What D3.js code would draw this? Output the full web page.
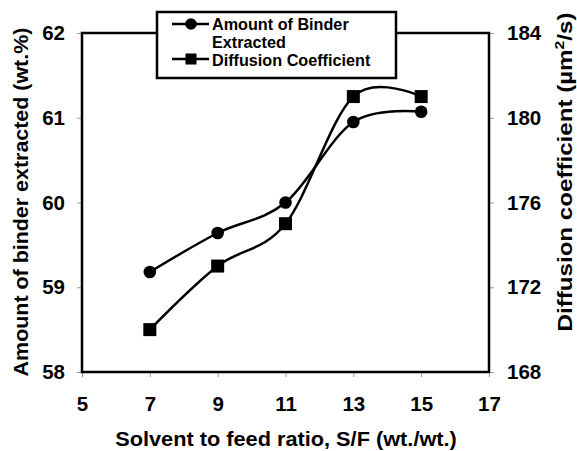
<!DOCTYPE html>
<html><head><meta charset="utf-8">
<script src="https://cdn.jsdelivr.net/npm/d3@7"></script>
<style>
html,body{margin:0;padding:0;background:#fff;}
svg{display:block;font-family:"Liberation Sans",Arial,sans-serif;font-weight:bold;}
</style></head>
<body>
<svg id="chart" width="577" height="451"></svg>
<script>
const solventRatio = [7, 9, 11, 13, 15];
const binderExtracted = [59.18, 59.64, 60.0, 60.95, 61.07];
const diffusionCoef = [170.0, 173.0, 175.0, 181.0, 181.0];
const xTicks = [5, 7, 9, 11, 13, 15, 17];
const leftTicks = [58, 59, 60, 61, 62];
const rightTicks = [168, 172, 176, 180, 184];
const seriesNames = ["Amount of Binder", "Extracted", "Diffusion Coefficient"];
const xTitle = "Solvent to feed ratio, S/F (wt./wt.)";
const leftTitle = "Amount of binder extracted (wt.%)";

const svg = d3.select("#chart");
const L = 82, R = 489, T = 33, B = 372;
const x = d3.scaleLinear().domain([5, 17]).range([L, R]);
const yL = d3.scaleLinear().domain([58, 62]).range([B, T]);
const yR = d3.scaleLinear().domain([168, 184]).range([B, T]);

function styleAxis(g){
  g.select(".domain").remove();
  g.selectAll(".tick line").attr("stroke", "#999").attr("stroke-width", 1);
  g.selectAll(".tick text").attr("font-size", 20.5).attr("font-weight", "bold")
    .attr("fill", "#000").attr("font-family", '"Liberation Sans", Arial, sans-serif');
}

svg.append("g").attr("transform", `translate(0,${B})`)
  .call(d3.axisBottom(x).tickValues(xTicks).tickFormat(d3.format("d")).tickSize(5).tickPadding(19))
  .call(styleAxis);
svg.append("g").attr("transform", `translate(${L},0)`)
  .call(d3.axisLeft(yL).tickValues(leftTicks).tickFormat(d3.format("d")).tickSize(5).tickPadding(12))
  .call(styleAxis);
svg.append("g").attr("transform", `translate(${R},0)`)
  .call(d3.axisRight(yR).tickValues(rightTicks).tickFormat(d3.format("d")).tickSize(5).tickPadding(13))
  .call(styleAxis);

svg.append("rect").attr("x", L).attr("y", T).attr("width", R - L).attr("height", B - T)
  .attr("fill", "none").attr("stroke", "#000").attr("stroke-width", 2.5);

const curve = d3.curveCardinal.tension(0);
const pts1 = solventRatio.map((v, i) => [x(v), yL(binderExtracted[i])]);
const pts2 = solventRatio.map((v, i) => [x(v), yR(diffusionCoef[i])]);
const line = d3.line().curve(curve);
svg.append("path").attr("d", line(pts1)).attr("fill", "none").attr("stroke", "#000").attr("stroke-width", 2.5);
svg.append("path").attr("d", line(pts2)).attr("fill", "none").attr("stroke", "#000").attr("stroke-width", 2.5);
svg.selectAll("circle.m").data(pts1).join("circle").attr("class", "m")
  .attr("cx", d => d[0]).attr("cy", d => d[1]).attr("r", 6.3).attr("fill", "#000");
svg.selectAll("rect.m").data(pts2).join("rect").attr("class", "m")
  .attr("x", d => d[0] - 6.5).attr("y", d => d[1] - 6.5).attr("width", 13).attr("height", 13).attr("fill", "#000");

// legend
const lg = svg.append("g");
lg.append("rect").attr("x", 157).attr("y", 12).attr("width", 239).attr("height", 66)
  .attr("fill", "#fff").attr("stroke", "#000").attr("stroke-width", 2.5);
lg.append("line").attr("x1", 172).attr("x2", 209).attr("y1", 24).attr("y2", 24).attr("stroke", "#000").attr("stroke-width", 2.5);
lg.append("circle").attr("cx", 191).attr("cy", 24).attr("r", 5.8).attr("fill", "#000");
lg.append("line").attr("x1", 172).attr("x2", 209).attr("y1", 59).attr("y2", 59).attr("stroke", "#000").attr("stroke-width", 2.5);
lg.append("rect").attr("x", 185.5).attr("y", 53.5).attr("width", 11).attr("height", 11).attr("fill", "#000");
const lt = [[seriesNames[0], 30], [seriesNames[1], 48], [seriesNames[2], 66]];
lg.selectAll("text").data(lt).join("text").attr("x", 212).attr("y", d => d[1])
  .attr("font-size", 16.2).text(d => d[0]);

// axis titles, stretched to measured length
function stretched(tx, ty, rot, target, build){
  const g = svg.append("g").attr("transform", `translate(${tx},${ty}) rotate(${rot})`);
  const t = g.append("text").attr("text-anchor", "middle").attr("font-size", 20);
  build(t);
  const w = t.node().getComputedTextLength();
  t.attr("transform", `scale(${target / w},1)`);
}
stretched(286, 446, 0, 342, t => t.text(xTitle));
stretched(28, 202, -90, 349, t => t.text(leftTitle));
stretched(572, 172, -90, 319, t => {
  t.append("tspan").text("Diffusion coefficient (µm");
  t.append("tspan").attr("font-size", 13).attr("dy", -8).text("2");
  t.append("tspan").attr("dy", 8).text("/s)");
});
</script>
</body></html>
